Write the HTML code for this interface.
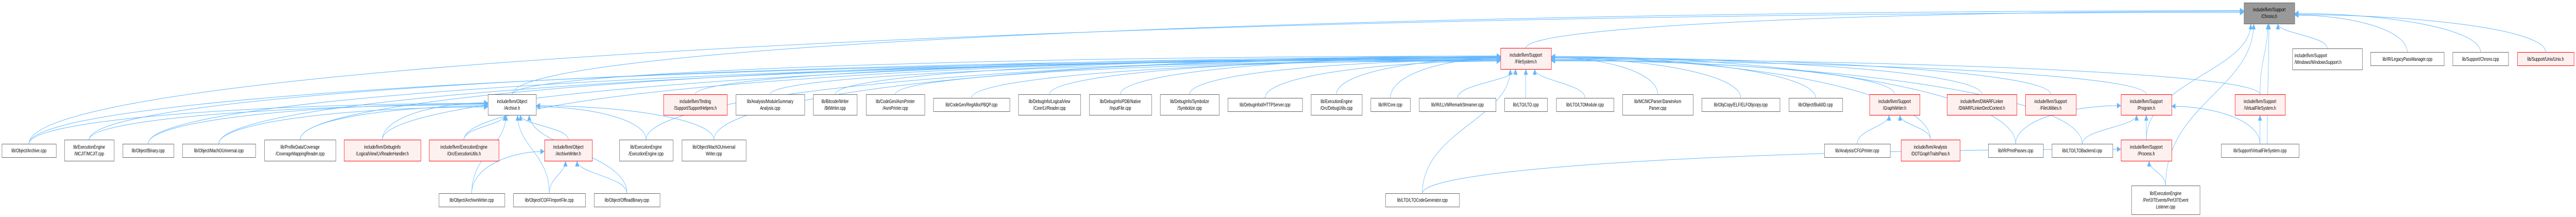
<!DOCTYPE html>
<html><head><meta charset="utf-8">
<style>
html,body{margin:0;padding:0;background:#fff;width:100%;height:100%;overflow:hidden;}
svg{display:block;width:100vw;height:100vh;}
text{font-family:"Liberation Sans",Arial,sans-serif;font-size:10px;fill:#000;}
</style></head>
<body>
<svg id="g" viewBox="0 0 7121 421" preserveAspectRatio="none" xmlns="http://www.w3.org/2000/svg">
<defs>
<marker id="ah" viewBox="0 0 10 10" refX="10" refY="5" markerWidth="11" markerHeight="11" markerUnits="userSpaceOnUse" orient="auto">
<path d="M0,0 L10,5 L0,10 z" fill="#63b8ff"/>
</marker>
</defs>
<g id="edges" fill="none" stroke="#63b8ff" stroke-width="1"></g>
<g id="nodes">
<rect x="6203.5" y="5.5" width="140" height="41" fill="#999" stroke="#666"/>
<text x="6273" y="22" text-anchor="middle">include/llvm/Support</text><text x="6273" y="35" text-anchor="middle">/Chrono.h</text>
<rect x="4148.5" y="93.5" width="140" height="41" fill="#fff0f0" stroke="#f00"/>
<text x="4218" y="110" text-anchor="middle">include/llvm/Support</text><text x="4218" y="123" text-anchor="middle">/FileSystem.h</text>
<rect x="6337.5" y="94.5" width="193" height="41" fill="#fff" stroke="#666"/>
<text x="6343" y="111">include/llvm/Support</text><text x="6343" y="124">/Windows/WindowsSupport.h</text>
<rect x="6553.5" y="101.5" width="203" height="26" fill="#fff" stroke="#666"/>
<text x="6655" y="118" text-anchor="middle">lib/IR/LegacyPassManager.cpp</text>
<rect x="6780.5" y="101.5" width="154" height="26" fill="#fff" stroke="#666"/>
<text x="6857" y="118" text-anchor="middle">lib/Support/Chrono.cpp</text>
<rect x="6959.5" y="101.5" width="156" height="26" fill="#fff0f0" stroke="#f00"/>
<text x="7037" y="118" text-anchor="middle">lib/Support/Unix/Unix.h</text>
</g>
<g id="nodes2"></g>
</svg>
<script>
var N={
a1:[5,155,279,305,'w',['lib/Object/Archive.cpp']],
a2:[178,315,271,312,'w',['lib/ExecutionEngine','/MCJIT/MCJIT.cpp']],
a3:[339,480,279,305,'w',['lib/Object/Binary.cpp']],
a4:[504,706,279,305,'w',['lib/Object/MachOUniversal.cpp']],
a5:[731,928,271,312,'w',['lib/ProfileData/Coverage','/CoverageMappingReader.cpp']],
a6:[951,1163,271,312,'r',['include/llvm/DebugInfo','/LogicalView/LVReaderHandler.h']],
a7:[1186,1379,271,312,'r',['include/llvm/ExecutionEngine','/Orc/ExecutionUtils.h']],
a8:[1505,1637,271,312,'r',['include/llvm/Object','/ArchiveWriter.h']],
a9:[1712,1860,271,312,'w',['lib/ExecutionEngine','/ExecutionEngine.cpp']],
a10:[1885,2062,271,312,'w',['lib/Object/MachOUniversal','Writer.cpp']],
b1:[1213,1395,375,401,'w',['lib/Object/ArchiveWriter.cpp']],
b2:[1419,1618,375,401,'w',['lib/Object/COFFImportFile.cpp']],
b3:[1642,1824,375,401,'w',['lib/Object/OffloadBinary.cpp']],
b4:[3830,4034,375,401,'w',['lib/LTO/LTOCodeGenerator.cpp']],
m0:[1349,1482,183,223,'w',['include/llvm/Object','/Archive.h']],
m1:[1834,2010,183,223,'r',['include/llvm/Testing','/Support/SupportHelpers.h']],
m2:[2034,2224,183,223,'w',['lib/Analysis/ModuleSummary','Analysis.cpp']],
m3:[2248,2369,183,223,'w',['lib/Bitcode/Writer','/BitWriter.cpp']],
m4:[2394,2556,183,223,'w',['lib/CodeGen/AsmPrinter','/AsmPrinter.cpp']],
m5:[2580,2791,190,216,'w',['lib/CodeGen/RegAllocPBQP.cpp']],
m6:[2815,2987,183,223,'w',['lib/DebugInfo/LogicalView','/Core/LVReader.cpp']],
m7:[3011,3183,183,223,'w',['lib/DebugInfo/PDB/Native','/InputFile.cpp']],
m8:[3207,3370,183,223,'w',['lib/DebugInfo/Symbolize','/Symbolize.cpp']],
m9:[3394,3600,190,216,'w',['lib/Debuginfod/HTTPServer.cpp']],
m10:[3624,3765,183,223,'w',['lib/ExecutionEngine','/Orc/DebugUtils.cpp']],
m11:[3789,3898,190,216,'w',['lib/IR/Core.cpp']],
m12:[3923,4135,190,216,'w',['lib/IR/LLVMRemarkStreamer.cpp']],
m13:[4159,4277,190,216,'w',['lib/LTO/LTO.cpp']],
m14:[4302,4461,190,216,'w',['lib/LTO/LTOModule.cpp']],
m15:[4485,4680,183,223,'w',['lib/MC/MCParser/DarwinAsm','Parser.cpp']],
m16:[4704,4920,190,216,'w',['lib/ObjCopy/ELF/ELFObjcopy.cpp']],
m17:[4945,5093,190,216,'w',['lib/Object/BuildID.cpp']],
m18:[5168,5307,183,223,'r',['include/llvm/Support','/GraphWriter.h']],
m19:[5382,5575,183,223,'r',['include/llvm/DWARFLinker','/DWARFLinkerDeclContext.h']],
m20:[5599,5739,183,223,'r',['include/llvm/Support','/FileUtilities.h']],
m21:[5863,6003,183,223,'r',['include/llvm/Support','/Program.h']],
m22:[6178,6317,183,223,'r',['include/llvm/Support','/VirtualFileSystem.h']],
c1:[5043,5225,279,305,'w',['lib/Analysis/CFGPrinter.cpp']],
c2:[5255,5418,271,312,'r',['include/llvm/Analysis','/DOTGraphTraitsPass.h']],
c3:[5496,5648,279,305,'w',['lib/IR/PrintPasses.cpp']],
c4:[5672,5840,279,305,'w',['lib/LTO/LTOBackend.cpp']],
c5:[5863,6003,271,312,'r',['include/llvm/Support','/Process.h']],
c6:[6140,6355,279,305,'w',['lib/Support/VirtualFileSystem.cpp']],
p1:[5892,6081,360,416,'w',['lib/ExecutionEngine','/PerfJITEvents/PerfJITEvent','Listener.cpp']],
FS:[4148,4288,93,134,'x',[]],
CH:[6203,6343,5,46,'x',[]],
W1:[6337,6530,94,135,'x',[]],
W2:[6553,6756,101,127,'x',[]],
W3:[6780,6934,101,127,'x',[]],
W4:[6959,7115,101,127,'x',[]]
};
var NS='http://www.w3.org/2000/svg';
var gn=document.getElementById('nodes2'),ge=document.getElementById('edges');
for(var k in N){var n=N[k];if(n[4]=='x')continue;
 var r=document.createElementNS(NS,'rect');
 r.setAttribute('x',n[0]+.5);r.setAttribute('y',n[2]+.5);r.setAttribute('width',n[1]-n[0]);r.setAttribute('height',n[3]-n[2]);
 r.setAttribute('fill',n[4]=='r'?'#fff0f0':'#fff');r.setAttribute('stroke',n[4]=='r'?'#f00':'#666');gn.appendChild(r);
 var L=n[5],cx=(n[0]+n[1])/2,cy=(n[2]+n[3])/2,y0=cy-(L.length-1)*6.5+3.5;
 for(var i=0;i<L.length;i++){var t=document.createElementNS(NS,'text');t.setAttribute('x',cx);t.setAttribute('y',y0+i*13);t.setAttribute('text-anchor','middle');t.textContent=L[i];gn.appendChild(t);}
}
var seed=1;function rnd(){seed=(seed*9301+49297)%233280;return seed/233280;}
function E(s,t,ox){var a=N[s],b=N[t];ox=ox||0;
 var sx=(a[0]+a[1])/2+ox,sy=a[2];var bx=(b[0]+b[1])/2,by=b[3],d;
 var dx=bx-sx,dy=sy-by;
 if(Math.abs(dx)>2.5*Math.abs(dy)+60){
  var ex=dx>0?b[0]:b[1];var ey=(b[2]+b[3])/2+(rnd()*10-5);
  d='M'+sx+','+sy+' C'+sx+','+(sy-(sy-ey)*0.6)+' '+(sx+(ex-sx)*0.5)+','+ey+' '+ex+','+ey;
 } else {
  var ex2=bx+Math.max(-b[1]+bx+10,Math.min(b[1]-bx-10,dx*-0.15));
  d='M'+sx+','+sy+' C'+sx+','+(sy-dy*0.5)+' '+ex2+','+(by+dy*0.4)+' '+ex2+','+by;
 }
 var p=document.createElementNS(NS,'path');p.setAttribute('d',d);p.setAttribute('marker-end','url(#ah)');ge.appendChild(p);}
['a1','a2','a3','a4','a5','a6','a7','a9','a10'].forEach(function(s){E(s,'m0');});
['a1','a2','a3','a4','a5','a6','a7','a9','a10','m0','m1','m2','m3','m4','m5','m6','m7','m8','m9','m10','m11','m12','m13','m14','m15','m16','m17','m18','m19','m20','m21','m22','c2','c3','c4','b4'].forEach(function(s){E(s,'FS');});
E('a8','m0');E('b1','m0');E('b2','m0');E('b3','m0');E('b1','a8');E('b2','a8');E('b3','a8');
E('c1','m18');E('c2','m18');E('c3','m21');E('c4','m21');E('c5','m21');E('p1','c5');E('b4','c5');
E('c6','m22');E('c6','CH',20);E('c6','m21');E('m22','CH');E('c5','CH');E('p1','CH');
E('FS','CH');E('a1','CH');E('m0','CH');E('W1','CH');E('W2','CH');E('W3','CH');E('W4','CH');
</script>
</body></html>
